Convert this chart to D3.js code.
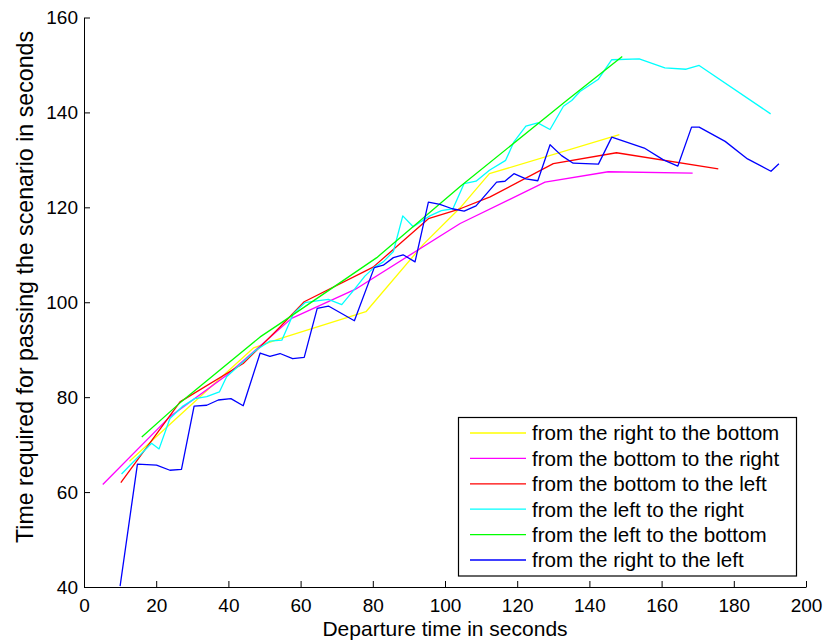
<!DOCTYPE html>
<html>
<head>
<meta charset="utf-8">
<script src="https://cdn.jsdelivr.net/npm/d3@7"></script>
<style>
  html, body { margin: 0; padding: 0; background: #fff; }
  svg { display: block; font-family: "Liberation Sans", Arial, Helvetica, sans-serif; }
</style>
</head>
<body>
<svg id="chart" width="826" height="643"></svg>
<script>
// Route travel times: [departure time (s), time needed to pass (s)]
const rightToBottom = [[12.6,66.5],[47,90.4],[54.5,92.4],[78.1,98],[94,112.2],[104.2,119.9],[112.3,127.1],[148.3,135.3]];
const bottomToRight = [[5.2,61.6],[23.8,75.9],[39.5,84.6],[57.5,96.6],[75.1,102.7],[104.2,116.6],[127.7,125.3],[145.2,127.5],[168.6,127.2]];
const bottomToLeft  = [[10.2,62],[26.6,79],[44.1,87.1],[48.8,90.6],[54.3,94.8],[61,100.1],[80.1,107.4],[95.4,117.6],[104.2,119.7],[112.5,122.2],[130,129.2],[147.5,131.5],[175.7,128.1]];
const leftToRight   = [[10.4,63.8],[18.7,70.3],[20.8,69.1],[23.8,75.5],[27.2,78],[30.7,79.7],[34,80.1],[37.5,81.1],[39.5,84.3],[47.8,90],[51.5,91.8],[54.8,92],[58,97.6],[61.2,99.9],[64.5,100.3],[67.7,100.6],[71.4,99.5],[74.9,102.7],[77.8,105.5],[80.3,107.3],[82.9,108.5],[85.7,110.7],[88.3,118.2],[91.2,115.9],[95.8,118.2],[99,119.3],[102.2,119.7],[105.3,125],[108.6,125.5],[112.3,127.8],[116.8,129.9],[119.1,133.8],[122.4,137.1],[125.7,137.8],[129.1,136.4],[132.8,141.3],[135.1,142.5],[137.4,144.4],[142.5,147],[146.2,151.1],[153.8,151.3],[160.9,149.4],[166.8,149.1],[170.4,149.9],[190.2,139.7]];
const leftToBottom  = [[16,71.6],[26.6,78.8],[48.8,92.7],[54.3,95.5],[81.1,109.4],[104.2,124.4],[133.7,142.5],[149.1,151.8]];
const rightToLeft   = [[10,40.2],[14.8,65.9],[20.1,65.7],[23.8,64.6],[27,64.8],[30.5,78.1],[34,78.3],[37.2,79.4],[40.7,79.7],[44.1,78.2],[48.8,89.3],[51.5,88.6],[54.3,89.2],[57.8,88.1],[61,88.4],[64.6,98.7],[67.7,99.2],[74.9,96.1],[80.4,107.3],[82.9,107.8],[85.7,109.4],[88.4,110],[91.7,108.5],[95.4,121.1],[98.6,120.6],[102,119.7],[105.3,119.2],[108.6,120.3],[114.3,125.3],[116.6,125.5],[119.1,127.1],[122.4,126],[125.7,125.6],[129.1,133.2],[132.3,130.9],[135.5,129.3],[142.5,129.1],[146.2,134.8],[155.2,132.5],[160.5,130],[164.5,128.7],[168.3,136.9],[170.4,136.9],[177.6,133.9],[183.8,130.2],[190.3,127.6],[192.5,129.2]];

const seriesNames = [
  "from the right to the bottom",
  "from the bottom to the right",
  "from the bottom to the left",
  "from the left to the right",
  "from the left to the bottom",
  "from the right to the left"
];
const seriesData = [rightToBottom, bottomToRight, bottomToLeft, leftToRight, leftToBottom, rightToLeft];
const seriesColors = ["#ffff00", "#ff00ff", "#ff0000", "#00ffff", "#00ff00", "#0000ff"];

const xTicks = [0, 20, 40, 60, 80, 100, 120, 140, 160, 180, 200];
const yTicks = [40, 60, 80, 100, 120, 140, 160];

(function draw() {
  const svg = d3.select("#chart");
  const plotLeft = 84, plotRight = 806, plotTop = 17.5, plotBottom = 587;

  const x = d3.scaleLinear().domain([0, 200]).range([plotLeft, plotRight]);
  const y = d3.scaleLinear().domain([40, 160]).range([plotBottom, plotTop]);

  // Axes: ticks point inward, only left and bottom edges are drawn
  const xAxis = d3.axisBottom(x).tickValues(xTicks).tickFormat(d3.format("d"))
    .tickSizeInner(-6).tickSizeOuter(0).tickPadding(12);
  const yAxis = d3.axisLeft(y).tickValues(yTicks).tickFormat(d3.format("d"))
    .tickSizeInner(-6).tickSizeOuter(0).tickPadding(6);

  const gx = svg.append("g").attr("transform", `translate(0,${plotBottom})`).call(xAxis);
  const gy = svg.append("g").attr("transform", `translate(${plotLeft},0)`).call(yAxis);
  [gx, gy].forEach(g => {
    g.selectAll("path.domain").attr("stroke", "#000").attr("stroke-width", 1);
    g.selectAll(".tick line").attr("stroke", "#000").attr("stroke-width", 1);
    g.selectAll(".tick text").attr("font-size", 19).attr("fill", "#000")
      .attr("font-family", "'Liberation Sans', Arial, sans-serif");
  });

  // Axis titles
  svg.append("text")
    .attr("x", (plotLeft + plotRight) / 2).attr("y", 636)
    .attr("text-anchor", "middle").attr("font-size", 21).attr("fill", "#000")
    .text("Departure time in seconds");
  svg.append("text")
    .attr("transform", "translate(33,287) rotate(-90)")
    .attr("text-anchor", "middle").attr("font-size", 23.2).attr("fill", "#000")
    .text("Time required for passing the scenario in seconds");

  // Series lines
  const line = d3.line().x(d => x(d[0])).y(d => y(d[1]));
  svg.append("g").selectAll("path").data(seriesData).join("path")
    .attr("d", line)
    .attr("fill", "none")
    .attr("stroke", (d, i) => seriesColors[i])
    .attr("stroke-width", 1.3)
    .attr("stroke-linejoin", "round");

  // Legend
  const lg = svg.append("g");
  lg.append("rect")
    .attr("x", 458.5).attr("y", 417.5).attr("width", 338).attr("height", 158.5)
    .attr("fill", "#fff").attr("stroke", "#000").attr("stroke-width", 1.2);
  const rowY = i => 433 + i * 25.4;
  seriesNames.forEach((name, i) => {
    lg.append("line")
      .attr("x1", 470).attr("x2", 526).attr("y1", rowY(i)).attr("y2", rowY(i))
      .attr("stroke", seriesColors[i]).attr("stroke-width", 1.3);
    lg.append("text")
      .attr("x", 532).attr("y", rowY(i)).attr("dy", "0.36em")
      .attr("font-size", 20.6).attr("fill", "#000")
      .text(name);
  });
})();
</script>
</body>
</html>
